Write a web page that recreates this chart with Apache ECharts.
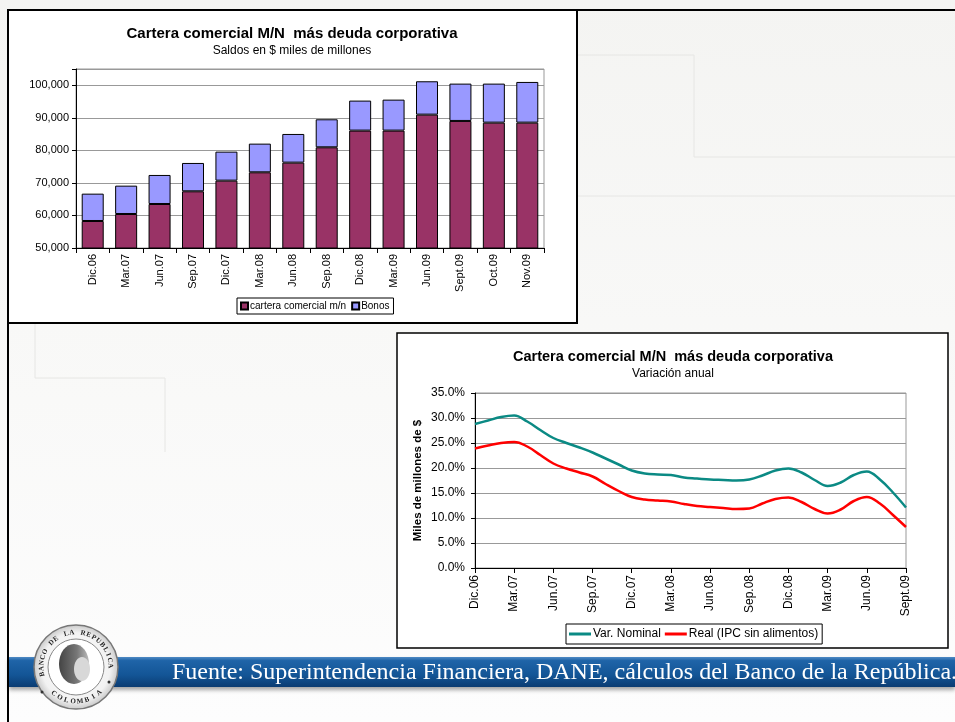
<!DOCTYPE html>
<html><head><meta charset="utf-8">
<script src="https://cdn.jsdelivr.net/npm/echarts@6/dist/echarts.min.js"></script>
<style>html,body{margin:0;padding:0;background:#fff}#c{width:955px;height:722px}</style>
</head><body><div id="c"></div><script>
// ---- Chart 1: saldos ----
const barCategories = ['Dic.06','Mar.07','Jun.07','Sep.07','Dic.07','Mar.08','Jun.08','Sep.08','Dic.08','Mar.09','Jun.09','Sept.09','Oct.09','Nov.09'];
const carteraComercial = [58300,60450,63520,67420,70700,73260,76230,80940,86070,86070,90980,89040,88520,88520];
const bonos = [8400,8710,8920,8710,8910,8810,8810,8610,9220,9520,10250,11470,11990,12500];
// ---- Chart 2: variación anual (monthly) ----
const months = ['Dic.06','Ene.07','Feb.07','Mar.07','Abr.07','May.07','Jun.07','Jul.07','Ago.07','Sep.07','Oct.07','Nov.07',
  'Dic.07','Ene.08','Feb.08','Mar.08','Abr.08','May.08','Jun.08','Jul.08','Ago.08','Sep.08','Oct.08','Nov.08',
  'Dic.08','Ene.09','Feb.09','Mar.09','Abr.09','May.09','Jun.09','Jul.09','Ago.09','Sept.09'];
const varNominal = [28.8,29.5,30.2,30.5,29.3,27.6,26.0,25.0,24.1,23.1,21.9,20.7,
  19.5,18.9,18.7,18.6,18.1,17.9,17.7,17.6,17.5,17.7,18.5,19.5,
  19.9,19.1,17.6,16.4,17.1,18.6,19.3,17.7,15.1,12.1];
const realIPC = [23.9,24.5,25.0,25.2,24.3,22.6,20.9,19.9,19.1,18.3,16.8,15.4,
  14.2,13.7,13.5,13.3,12.8,12.4,12.2,12.0,11.8,11.9,12.9,13.8,
  14.1,13.2,11.8,10.9,11.7,13.4,14.2,12.9,10.6,8.2];

const SANS = 'Liberation Sans, Arial, sans-serif';
const SERIF = 'Liberation Serif, Times New Roman, serif';

const chart = echarts.init(document.getElementById('c'), null, {renderer:'canvas'});

// decorative logo letters
const logoCx = 76, logoCy = 667;
const logoEls = [];
function arcText(str, a0, a1, r, top) {
  const n = str.length;
  for (let i = 0; i < n; i++) {
    const ch = str[i];
    if (ch === ' ') continue;
    const a = (a0 + (a1 - a0) * i / (n - 1)) * Math.PI / 180;
    logoEls.push({
      type:'text', z:22,
      x: logoCx + r * Math.cos(a), y: logoCy - r * Math.sin(a),
      rotation: top ? a - Math.PI/2 : a + Math.PI/2,
      style:{text:ch, fill:'#222', font:'bold 7px ' + SERIF, textAlign:'center', textVerticalAlign:'middle'}
    });
  }
}
arcText('BANCO DE LA REPUBLICA', 192, 2, 34.5, true);
arcText('COLOMBIA', 230, 312, 34.5, false);

const faint = {stroke:'#e6e6e4', lineWidth:1};

const option = {
  animation:false,
  graphic:[
    {type:'rect', z:-20, shape:{x:0,y:0,width:955,height:722},
      style:{fill:new echarts.graphic.LinearGradient(0,0,0,1,[{offset:0,color:'#f4f4f2'},{offset:1,color:'#fdfdfd'}])}},
    // faint slide decorations
    {type:'polyline', z:-19, shape:{points:[[577,55],[694,55],[694,157],[955,157]]}, style:faint},
    {type:'line', z:-19, shape:{x1:577,y1:196,x2:955,y2:196}, style:faint},
    {type:'polyline', z:-19, shape:{points:[[35,323],[35,378],[165,378],[165,452]]}, style:faint},
    // slide frame
    {type:'line', z:-18, shape:{x1:8,y1:10,x2:955,y2:10}, style:{stroke:'#000', lineWidth:2}},
    {type:'line', z:-18, shape:{x1:8,y1:10,x2:8,y2:722}, style:{stroke:'#000', lineWidth:2}},
    // chart boxes
    {type:'rect', z:-15, shape:{x:8,y:10,width:569,height:313}, style:{fill:'#fff', stroke:'#000', lineWidth:2}},
    {type:'rect', z:-15, shape:{x:397,y:333,width:551,height:315}, style:{fill:'#fff', stroke:'#000', lineWidth:1.5}},
    // footer band
    {type:'rect', z:20, shape:{x:9,y:657,width:946,height:30},
      style:{fill:new echarts.graphic.LinearGradient(0,0,0,1,[
        {offset:0,color:'#4f8ac4'},{offset:0.12,color:'#1f64a8'},{offset:0.6,color:'#135596'},{offset:1,color:'#0b3c72'}]),
        shadowColor:'rgba(0,0,0,0.35)', shadowBlur:4, shadowOffsetY:3}},
    {type:'text', z:21, x:172, y:673,
      style:{text:'Fuente: Superintendencia Financiera, DANE, cálculos del Banco de la República.',
        fill:'#fff', font:'24px ' + SERIF, textAlign:'left', textVerticalAlign:'middle'}},
    // logo
    {type:'circle', z:21, shape:{cx:logoCx, cy:logoCy, r:42},
      style:{fill:new echarts.graphic.RadialGradient(0.5,0.5,0.5,[{offset:0,color:'#ffffff'},{offset:0.8,color:'#f2f2f2'},{offset:1,color:'#c8c8c8'}]),
        stroke:'#777', lineWidth:1.5}},
    {type:'circle', z:21, shape:{cx:logoCx, cy:logoCy, r:28}, style:{fill:'#fff', stroke:'#888', lineWidth:1}},
    {type:'ellipse', z:22, shape:{cx:logoCx-2, cy:logoCy-3, rx:15, ry:20},
      style:{fill:new echarts.graphic.LinearGradient(0,0,1,0,[{offset:0,color:'#444'},{offset:0.6,color:'#777'},{offset:1,color:'#bbb'}])}},
    {type:'ellipse', z:22, shape:{cx:logoCx+6, cy:logoCy+2, rx:8, ry:12}, style:{fill:'#d8d8d8'}},
    {type:'circle', z:22, shape:{cx:logoCx-34, cy:logoCy+25, r:1.5}, style:{fill:'#333'}},
    {type:'circle', z:22, shape:{cx:logoCx+33, cy:logoCy+15, r:1.5}, style:{fill:'#333'}}
  ].concat(logoEls),
  title:[
    {text:'Cartera comercial M/N  más deuda corporativa', subtext:'Saldos en $ miles de millones',
      left:292, top:26, textAlign:'center', itemGap:4, padding:0,
      textStyle:{fontFamily:SANS, fontSize:15, fontWeight:'bold', color:'#000'},
      subtextStyle:{fontFamily:SANS, fontSize:12, color:'#000'}},
    {text:'Cartera comercial M/N  más deuda corporativa', subtext:'Variación anual',
      left:673, top:349, textAlign:'center', itemGap:4, padding:0,
      textStyle:{fontFamily:SANS, fontSize:14.5, fontWeight:'bold', color:'#000'},
      subtextStyle:{fontFamily:SANS, fontSize:12, color:'#000'}}
  ],
  legend:[
    {data:['cartera comercial m/n','Bonos'], left:237, top:298, orient:'horizontal',
      backgroundColor:'#fff', borderColor:'#000', borderWidth:1, padding:[3,4,3,3],
      itemWidth:7, itemHeight:7, itemGap:5, icon:'rect',
      textStyle:{fontFamily:SANS, fontSize:10, color:'#000', padding:[0,0,0,-3]}},
    {data:['Var. Nominal','Real (IPC sin alimentos)'], left:566, top:624, orient:'horizontal',
      backgroundColor:'#fff', borderColor:'#000', borderWidth:1, padding:[4,4,4,3],
      itemWidth:22, itemHeight:3, itemGap:4, icon:'rect',
      textStyle:{fontFamily:SANS, fontSize:12, color:'#000', padding:[0,0,0,-3]}}
  ],
  grid:[
    {left:76, top:69, width:468, height:179, show:true, borderColor:'#999', borderWidth:1, backgroundColor:'transparent'},
    {left:475, top:393, width:431, height:175, show:true, borderColor:'#999', borderWidth:1, backgroundColor:'transparent'}
  ],
  xAxis:[
    {type:'category', gridIndex:0, data:barCategories,
      axisLine:{lineStyle:{color:'#000', width:1}},
      axisTick:{show:true, length:5, lineStyle:{color:'#000'}},
      axisLabel:{rotate:90, interval:0, margin:6, fontFamily:SANS, fontSize:11, color:'#000'}},
    {type:'category', gridIndex:1, data:months, boundaryGap:false,
      axisLine:{lineStyle:{color:'#000', width:1}},
      axisTick:{show:true, interval:2, length:5, lineStyle:{color:'#000'}},
      axisLabel:{rotate:90, interval:2, margin:7, fontFamily:SANS, fontSize:12, color:'#000'}}
  ],
  yAxis:[
    {type:'value', gridIndex:0, min:50000, max:105000, interval:10000,
      axisLine:{show:true, lineStyle:{color:'#000'}},
      axisTick:{show:true, length:4, lineStyle:{color:'#000'}},
      splitLine:{lineStyle:{color:'#999', width:1}},
      axisLabel:{margin:7, fontFamily:SANS, fontSize:11, color:'#000',
        formatter:v => (v % 10000 === 0 ? v.toLocaleString('en-US') : '')}},
    {type:'value', gridIndex:1, min:0, max:35, interval:5,
      name:'Miles de millones de $', nameLocation:'middle', nameGap:51, nameRotate:90,
      nameTextStyle:{fontFamily:SANS, fontSize:11.5, fontWeight:'bold', color:'#000'},
      axisLine:{show:true, lineStyle:{color:'#000'}},
      axisTick:{show:true, length:4, lineStyle:{color:'#000'}},
      splitLine:{lineStyle:{color:'#999', width:1}},
      axisLabel:{margin:10, fontFamily:SANS, fontSize:12, color:'#000',
        formatter:v => v.toFixed(1) + '%'}}
  ],
  series:[
    {name:'cartera comercial m/n', type:'bar', stack:'s', xAxisIndex:0, yAxisIndex:0, data:carteraComercial,
      barWidth:22, itemStyle:{color:'#993366', borderColor:'#000', borderWidth:1}},
    {name:'Bonos', type:'bar', stack:'s', xAxisIndex:0, yAxisIndex:0, data:bonos,
      barWidth:22, itemStyle:{color:'#9999ff', borderColor:'#000', borderWidth:1}},
    {name:'Var. Nominal', type:'line', xAxisIndex:1, yAxisIndex:1, data:varNominal, smooth:0.4,
      showSymbol:false, lineStyle:{color:'#0b8a84', width:2.5}, itemStyle:{color:'#0b8a84'}},
    {name:'Real (IPC sin alimentos)', type:'line', xAxisIndex:1, yAxisIndex:1, data:realIPC, smooth:0.4,
      showSymbol:false, lineStyle:{color:'#ff0000', width:2.5}, itemStyle:{color:'#ff0000'}}
  ]
};
chart.setOption(option);
</script></body></html>
